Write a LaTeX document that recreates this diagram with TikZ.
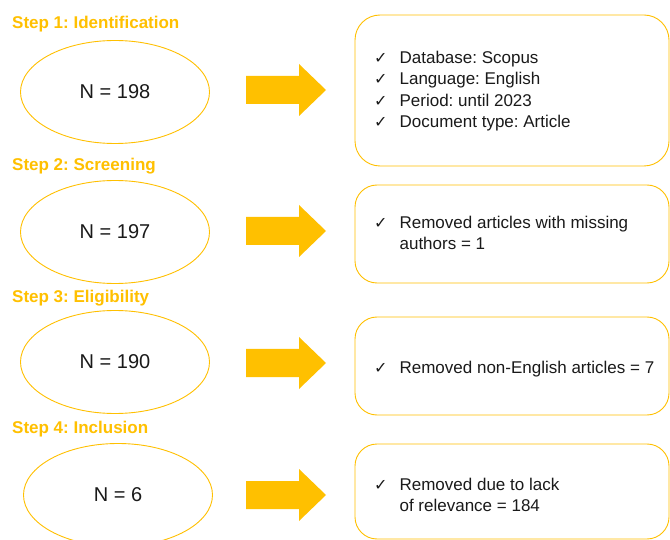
\documentclass[tikz,border=0pt]{standalone}
\usepackage{fontspec}
\setmainfont{Liberation Sans}
\newfontfamily\symfont{DejaVu Sans}
\usetikzlibrary{shapes.geometric,calc}
\frenchspacing
\definecolor{gold}{HTML}{FFC000}
\definecolor{ink}{HTML}{1A1A1A}
\tikzset{
  steplabel/.style={anchor=west, text=gold, font=\fontsize{17}{20}\selectfont\bfseries, inner sep=0},
  countnode/.style={ellipse, draw=gold, line width=0.9pt, minimum width=189pt, minimum height=103pt,
                    inner sep=0, font=\fontsize{20}{24}\selectfont, text=ink},
  infobox/.style={draw=gold, line width=0.9pt, rounded corners=22pt},
  infotext/.style={anchor=north west, inner sep=0, font=\fontsize{17}{21.5}\selectfont, text=ink, align=left}
}
\newcommand{\tick}{{\symfont\fontsize{16}{21}\selectfont ✓}}
\newcommand{\blockarrowat}[1]{%
  \fill[gold] ($(#1)+(0,-14)$) -- ++(53,0) -- ++(0,-12) -- ($(#1)+(80,0)$)
    -- ($(#1)+(53,26)$) -- ++(0,-12) -- ($(#1)+(0,14)$) -- cycle;}
\begin{document}
\begin{tikzpicture}[x=1pt, y=-1pt]
  \useasboundingbox (0,0) rectangle (670,540);
  \fill[white] (0,0) rectangle (670,540);

  % step headings
  \node[steplabel] (s1) at (12,24) {Step 1: Identification};
  \node[steplabel] (s2) at (12,166) {Step 2: Screening};
  \node[steplabel] (s3) at (12,298) {Step 3: Eligibility};
  \node[steplabel] (s4) at (12,429) {Step 4: Inclusion};

  % record counts
  \node[countnode] (n1) at (115,92) {N = 198};
  \node[countnode] (n2) at (115,232) {N = 197};
  \node[countnode] (n3) at (115,362) {N = 190};
  \node[countnode] (n4) at (118,495) {N = 6};

  % block arrows
  \coordinate (a1) at (246,90);
  \coordinate (a2) at (246,231);
  \coordinate (a3) at (246,363);
  \coordinate (a4) at (246,495);
  \blockarrowat{a1}
  \blockarrowat{a2}
  \blockarrowat{a3}
  \blockarrowat{a4}

  % criteria boxes
  \draw[infobox, rounded corners=25pt] (355,15) rectangle (669,166);
  \draw[infobox] (355,185) rectangle (669,283);
  \draw[infobox] (355,317) rectangle (669,415);
  \draw[infobox] (355,444) rectangle (669,539);

  \node[infotext] (t1) at (374,48) {%
    \begin{tabular}{@{}l@{\hspace{12pt}}l@{}}
      \tick & Database: Scopus\\
      \tick & Language: English\\
      \tick & Period: until 2023\\
      \tick & Document type: Article
    \end{tabular}};
  \node[infotext] (t2) at (374,213) {%
    \begin{tabular}{@{}l@{\hspace{12pt}}l@{}}
      \tick & Removed articles with missing\\
            & authors = 1
    \end{tabular}};
  \node[infotext] (t3) at (374,358) {%
    \begin{tabular}{@{}l@{\hspace{12pt}}l@{}}
      \tick & Removed non-English articles = 7
    \end{tabular}};
  \node[infotext] (t4) at (374,475) {%
    \begin{tabular}{@{}l@{\hspace{12pt}}l@{}}
      \tick & Removed due to lack\\
            & of relevance = 184
    \end{tabular}};
\end{tikzpicture}
\end{document}
